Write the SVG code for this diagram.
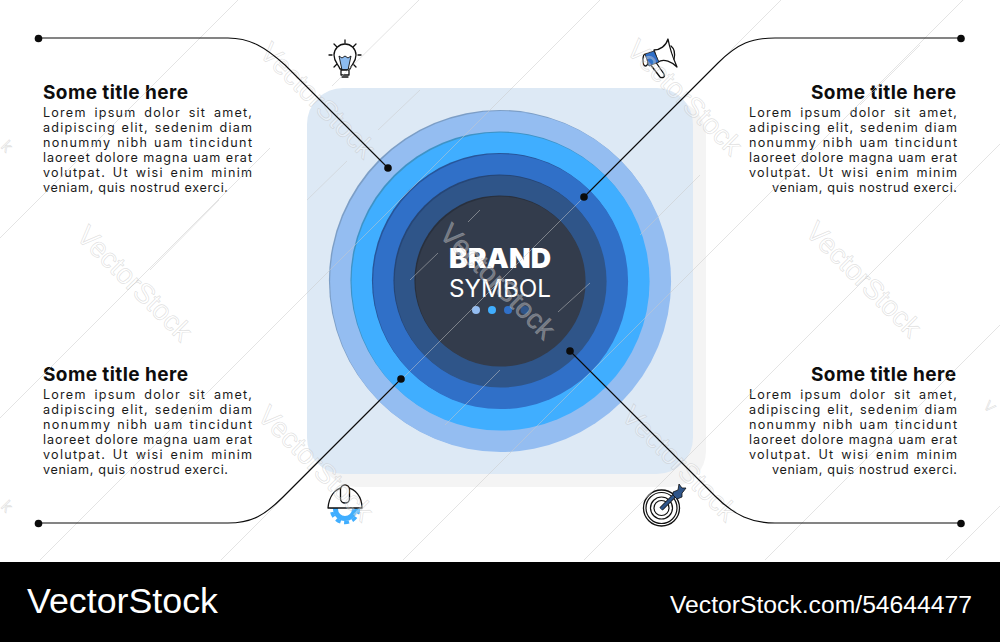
<svg xmlns="http://www.w3.org/2000/svg" width="1000" height="642" viewBox="0 0 1000 642">
<style>
.ti{font:700 19px Inter,"Open Sans",sans-serif;fill:#0d0d0d}
.bd{font:400 12.6px Inter,"Open Sans",sans-serif;fill:#1a1a1a}
.conn{fill:none;stroke:#0b0b0b;stroke-width:1.1}
.ic{fill:#fff;stroke:#111;stroke-width:1.3;stroke-linejoin:round;stroke-linecap:round}
.wl{stroke:#c9c9c9;stroke-opacity:.5;stroke-width:1;fill:none}
.wm{font:28px "Liberation Sans",Arial,sans-serif;fill:#fff;fill-opacity:.33;stroke:#b5b5b5;stroke-opacity:.42;stroke-width:.7;text-anchor:middle}
.dot{fill:#0b0b0b}
</style>
<rect width="1000" height="642" fill="#fff"/>
<g id="panel">
<rect x="320" y="100" width="386" height="387" rx="36" fill="#f4f4f4"/>
<rect x="307" y="88" width="386" height="386" rx="36" fill="#dde9f5"/>
</g>
<g id="rings">
<circle cx="499.400" cy="280.400" r="170.500" fill="#7c9ec6"/><circle cx="500.600" cy="281.600" r="170.500" fill="#94bdf1"/>
<circle cx="499.400" cy="280.400" r="149" fill="#3f93c6"/><circle cx="500.600" cy="281.600" r="149" fill="#40aeff"/>
<circle cx="499.400" cy="280.400" r="127.500" fill="#27569b"/><circle cx="500.600" cy="281.600" r="127.500" fill="#3070c8"/>
<circle cx="499.400" cy="280.400" r="106" fill="#264676"/><circle cx="500.600" cy="281.600" r="106" fill="#2f5589"/>
<circle cx="499.400" cy="280.400" r="85" fill="#29303d"/><circle cx="500.600" cy="281.600" r="85" fill="#333c4c"/>
</g>
<g id="brand">
<text x="449" y="268" textLength="102" lengthAdjust="spacingAndGlyphs" style="font:900 27.500px Inter,sans-serif;fill:#fff">BRAND</text>
<text x="449" y="297" textLength="102" lengthAdjust="spacingAndGlyphs" style="font:400 24px Inter,sans-serif;fill:#fff">SYMBOL</text>
<circle cx="476" cy="310" r="4" fill="#94bdf1"/><circle cx="492" cy="310" r="4" fill="#40aeff"/><circle cx="508" cy="310" r="4" fill="#3070c8"/><circle cx="524.500" cy="310" r="4" fill="#2f5589"/>
</g>
<g id="text-tl">
<text class="ti" x="43" y="98.500" textLength="145">Some title here</text>
<text class="bd" x="43" y="117" textLength="209" word-spacing="3">Lorem ipsum dolor sit amet,</text>
<text class="bd" x="43" y="132" textLength="209" word-spacing="1">adipiscing elit, sedenim diam</text>
<text class="bd" x="43" y="147" textLength="209" word-spacing="1">nonummy nibh uam tincidunt</text>
<text class="bd" x="43" y="162" textLength="209">laoreet dolore magna uam erat</text>
<text class="bd" x="43" y="177" textLength="209" word-spacing="2">volutpat. Ut wisi enim minim</text>
<text class="bd" x="43" y="192" textLength="185">veniam, quis nostrud exerci.</text>
</g>
<g id="text-tr">
<text class="ti" x="811" y="98.500" textLength="145">Some title here</text>
<text class="bd" x="749" y="117" textLength="208" word-spacing="3">Lorem ipsum dolor sit amet,</text>
<text class="bd" x="749" y="132" textLength="208" word-spacing="1">adipiscing elit, sedenim diam</text>
<text class="bd" x="749" y="147" textLength="208" word-spacing="1">nonummy nibh uam tincidunt</text>
<text class="bd" x="749" y="162" textLength="208">laoreet dolore magna uam erat</text>
<text class="bd" x="749" y="177" textLength="208" word-spacing="2">volutpat. Ut wisi enim minim</text>
<text class="bd" x="772" y="192" textLength="185">veniam, quis nostrud exerci.</text>
</g>
<g id="text-bl">
<text class="ti" x="43" y="381" textLength="145">Some title here</text>
<text class="bd" x="43" y="399" textLength="209" word-spacing="3">Lorem ipsum dolor sit amet,</text>
<text class="bd" x="43" y="414" textLength="209" word-spacing="1">adipiscing elit, sedenim diam</text>
<text class="bd" x="43" y="429" textLength="209" word-spacing="1">nonummy nibh uam tincidunt</text>
<text class="bd" x="43" y="444" textLength="209">laoreet dolore magna uam erat</text>
<text class="bd" x="43" y="459" textLength="209" word-spacing="2">volutpat. Ut wisi enim minim</text>
<text class="bd" x="43" y="474" textLength="185">veniam, quis nostrud exerci.</text>
</g>
<g id="text-br">
<text class="ti" x="811" y="381" textLength="145">Some title here</text>
<text class="bd" x="749" y="399" textLength="208" word-spacing="3">Lorem ipsum dolor sit amet,</text>
<text class="bd" x="749" y="414" textLength="208" word-spacing="1">adipiscing elit, sedenim diam</text>
<text class="bd" x="749" y="429" textLength="208" word-spacing="1">nonummy nibh uam tincidunt</text>
<text class="bd" x="749" y="444" textLength="208">laoreet dolore magna uam erat</text>
<text class="bd" x="749" y="459" textLength="208" word-spacing="2">volutpat. Ut wisi enim minim</text>
<text class="bd" x="772" y="474" textLength="185">veniam, quis nostrud exerci.</text>
</g>
<g id="icon-bulb">
<path class="ic" fill="none" d="M345 40v3M334 44l3 3M356 44l-3 3M329 55h3M358 55h3M334 67l3-3M356 67l-3-3"/>
<path class="ic" d="M340 69C338 64 334 62 334 55A11 11 0 0 1 356 55C356 62 352 64 350 69Z"/>
<path d="M339 56l3 2 3-2 3 2 3-2-3 14h-6Z" fill="#8dbcf0" stroke="#111" stroke-width=".9" stroke-linejoin="round"/>
<path class="ic" d="M341 70h8v5h-8zM342 77h6"/>
</g>
<g id="icon-megaphone">
<path class="ic" d="M650 64l5-3 9 13q1 3-1 3.500t-3-.500z"/>
<path class="ic" d="M654 50C660 50 666 46 668 39C670 50 674 60 677 67C672 62 664 58 658 62Z"/>
<path class="ic" d="M671 46q5 4 3 13" fill="none"/>
<ellipse class="ic" cx="645.500" cy="60" rx="2.500" ry="6"/>
<path d="M645 54l9-3 5 11-10 4z" fill="#3070c8" stroke="#222" stroke-width=".8"/>
</g>
<g id="icon-helmet">
<circle cx="345" cy="509" r="13.500" fill="none" stroke="#40aeff" stroke-width="3.500" stroke-dasharray="5 3.500"/>
<circle cx="345" cy="509" r="9.500" fill="none" stroke="#40aeff" stroke-width="5"/>
<path class="ic" d="M328 508C329 496 335 489 343 487.500H347C355 489 362 496 362 508Z"/>
<rect class="ic" x="340.500" y="485" width="9" height="18" rx="4.500"/>
</g>
<g id="icon-target">
<circle cx="661.500" cy="508" r="18" fill="#fff" stroke="#111" stroke-width="1.300"/>
<circle cx="661.500" cy="508" r="15.500" fill="none" stroke="#111" stroke-width="1.200"/>
<circle cx="661.500" cy="508" r="11" fill="none" stroke="#111" stroke-width="1.200"/>
<circle cx="661.500" cy="508" r="7.500" fill="none" stroke="#111" stroke-width="1.200"/>
<path d="M661 509L676 494" stroke="#111" stroke-width="4.500"/>
<path d="M661 509L676 494" stroke="#2f5589" stroke-width="3"/>
<path d="M673 492l5-2 1-6 3 4 4 0-3 4-1 1 0 4-5 2-4-4z" fill="#2f5589" stroke="#111" stroke-width=".8" stroke-linejoin="round"/>
</g>
<g id="watermark">
<path class="wl" d="M238 0L0 238M419 0L332 86M270 148L0 418M600 0L40 560M781 0L221 560M963 0L403 560M1000 144L584 560M1000 325L765 560M1000 506L946 560"/>
<path class="wl" d="M420 90L378 130M347 161L307 200M480 210L468 222M438 253L410 280M590 283L558 312M150 270L219 200M500 370L445 425M700 175L640 235M920 45L860 105"/>
<g class="wm">
<text transform="translate(318 100) rotate(45)" y="10">VectorStock</text>
<text transform="translate(685 97) rotate(45)" y="10">VectorStock</text>
<text transform="translate(135 283) rotate(45)" y="10">VectorStock</text>
<text transform="translate(864 279) rotate(45)" y="10">VectorStock</text>
<text transform="translate(498 281) rotate(45)" y="10">VectorStock</text>
<text transform="translate(316 463) rotate(45)" y="10">VectorStock</text>
<text transform="translate(680 463) rotate(45)" y="10">VectorStock</text>
<text transform="translate(3 150) rotate(45)" style="font-size:16px">k</text>
<text transform="translate(3 510) rotate(45)" style="font-size:16px">k</text>
<text transform="translate(986 410) rotate(45)" style="font-size:14px">V</text>
</g>
</g>
<g id="connectors">
<path class="conn" d="M38 38H228C250 38 265 47 285 65L388 168"/>
<path class="conn" d="M961 38H775C752 38 738 43 718 63L584 197"/>
<path class="conn" d="M38 523H228C252 523 265 515 283 497L401 379"/>
<path class="conn" d="M961 523H775C752 523 735 516 715 496L570 351"/>
<circle class="dot" cx="38.500" cy="38.500" r="3.800"/><circle class="dot" cx="388" cy="168" r="3.800"/>
<circle class="dot" cx="961" cy="38.500" r="3.800"/><circle class="dot" cx="584" cy="197" r="3.800"/>
<circle class="dot" cx="38.500" cy="523.500" r="3.800"/><circle class="dot" cx="401" cy="379" r="3.800"/>
<circle class="dot" cx="961" cy="523.500" r="3.800"/><circle class="dot" cx="570" cy="351" r="3.800"/>
</g>
<g id="footer">
<rect y="562" width="1000" height="80" fill="#000"/>
<text x="27" y="613" textLength="191" lengthAdjust="spacingAndGlyphs" style="font:35px 'Liberation Sans',Arial,sans-serif;fill:#fff">VectorStock</text>
<text x="670" y="613" textLength="302" lengthAdjust="spacingAndGlyphs" style="font:23.500px 'Liberation Sans',Arial,sans-serif;fill:#fff">VectorStock.com/54644477</text>
</g>
</svg>
